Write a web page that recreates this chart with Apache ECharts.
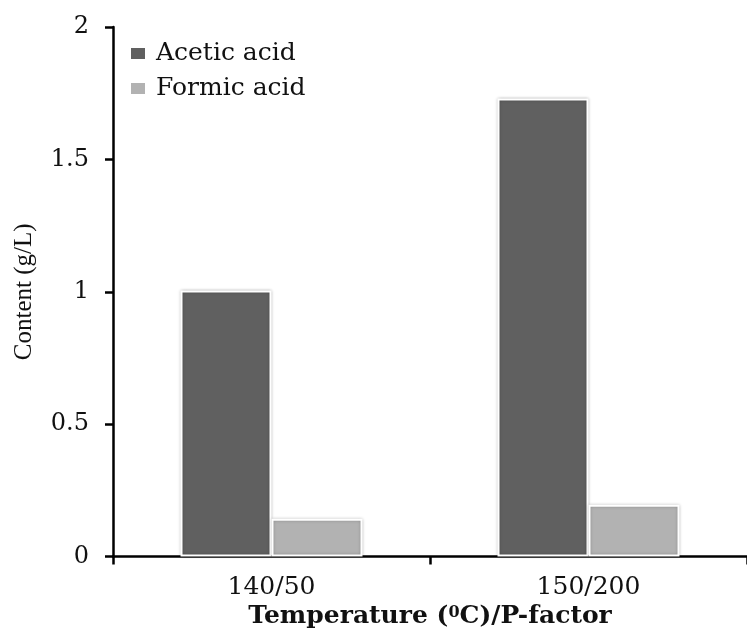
<!DOCTYPE html>
<html>
<head>
<meta charset="utf-8">
<script src="https://cdn.jsdelivr.net/npm/echarts@6/dist/echarts.min.js"></script>
<style>
html,body{margin:0;padding:0;background:#fff;}
#chart{width:747px;height:633px;}
</style>
</head>
<body>
<div id="chart"></div>
<script>
const categories = ['140/50', '150/200'];
const aceticAcid = [1.005, 1.73];
const formicAcid = [0.143, 0.195];
const yTicks = [0, 0.5, 1, 1.5, 2];

const chart = echarts.init(document.getElementById('chart'), null, {renderer: 'canvas'});
const serif = 'DejaVu Serif';
const barStyle = (color) => ({
  color: color,
  borderColor: '#ffffff',
  borderWidth: 2,
  shadowColor: 'rgba(0,0,0,0.25)',
  shadowBlur: 3
});
chart.setOption({
  animation: false,
  backgroundColor: '#fff',
  grid: {left: 113, right: 0, top: 27, bottom: 76.5, containLabel: false, outerBoundsMode: 'none'},
  legend: {
    orient: 'vertical',
    left: 126,
    top: 36,
    icon: 'rect',
    itemWidth: 14,
    itemHeight: 11,
    itemGap: 10,
    itemStyle: {borderWidth: 0, shadowBlur: 0},
    textStyle: {fontFamily: serif, fontSize: 25, color: '#111', padding: [0, 0, 0, 6]},
    data: ['Acetic acid', 'Formic acid']
  },
  xAxis: {
    type: 'category',
    data: categories,
    boundaryGap: true,
    axisLine: {lineStyle: {color: '#000', width: 2.5}},
    axisTick: {show: true, length: 8, lineStyle: {color: '#000', width: 2.5}},
    axisLabel: {fontFamily: serif, fontSize: 25, color: '#111', margin: 18},
    name: '{a|Temperature (}{s|0}{a|C)/P-factor}',
    nameLocation: 'middle',
    nameGap: 46,
    nameTextStyle: {
      rich: {
        a: {fontFamily: serif, fontSize: 25, fontWeight: 'bold', color: '#111'},
        s: {fontFamily: serif, fontSize: 16, fontWeight: 'bold', color: '#111', verticalAlign: 'top', padding: [0, 0, 9, 0]}
      }
    }
  },
  yAxis: {
    type: 'value',
    min: yTicks[0],
    max: yTicks[yTicks.length - 1],
    interval: 0.5,
    splitLine: {show: false},
    axisLine: {show: true, lineStyle: {color: '#000', width: 2.5}},
    axisTick: {show: true, length: 8, lineStyle: {color: '#000', width: 2.5}},
    axisLabel: {fontFamily: serif, fontSize: 24, color: '#111', margin: 24},
    name: 'Content (g/L)',
    nameLocation: 'middle',
    nameGap: 76,
    nameRotate: 90,
    nameTextStyle: {fontFamily: 'Liberation Serif', fontSize: 25, color: '#111'}
  },
  series: [
    {name: 'Acetic acid', type: 'bar', data: aceticAcid, barWidth: 91, barGap: '0%', itemStyle: barStyle('#606060')},
    {name: 'Formic acid', type: 'bar', data: formicAcid, barWidth: 91, barGap: '0%', itemStyle: barStyle('#b2b2b2')}
  ]
});
</script>
</body>
</html>
